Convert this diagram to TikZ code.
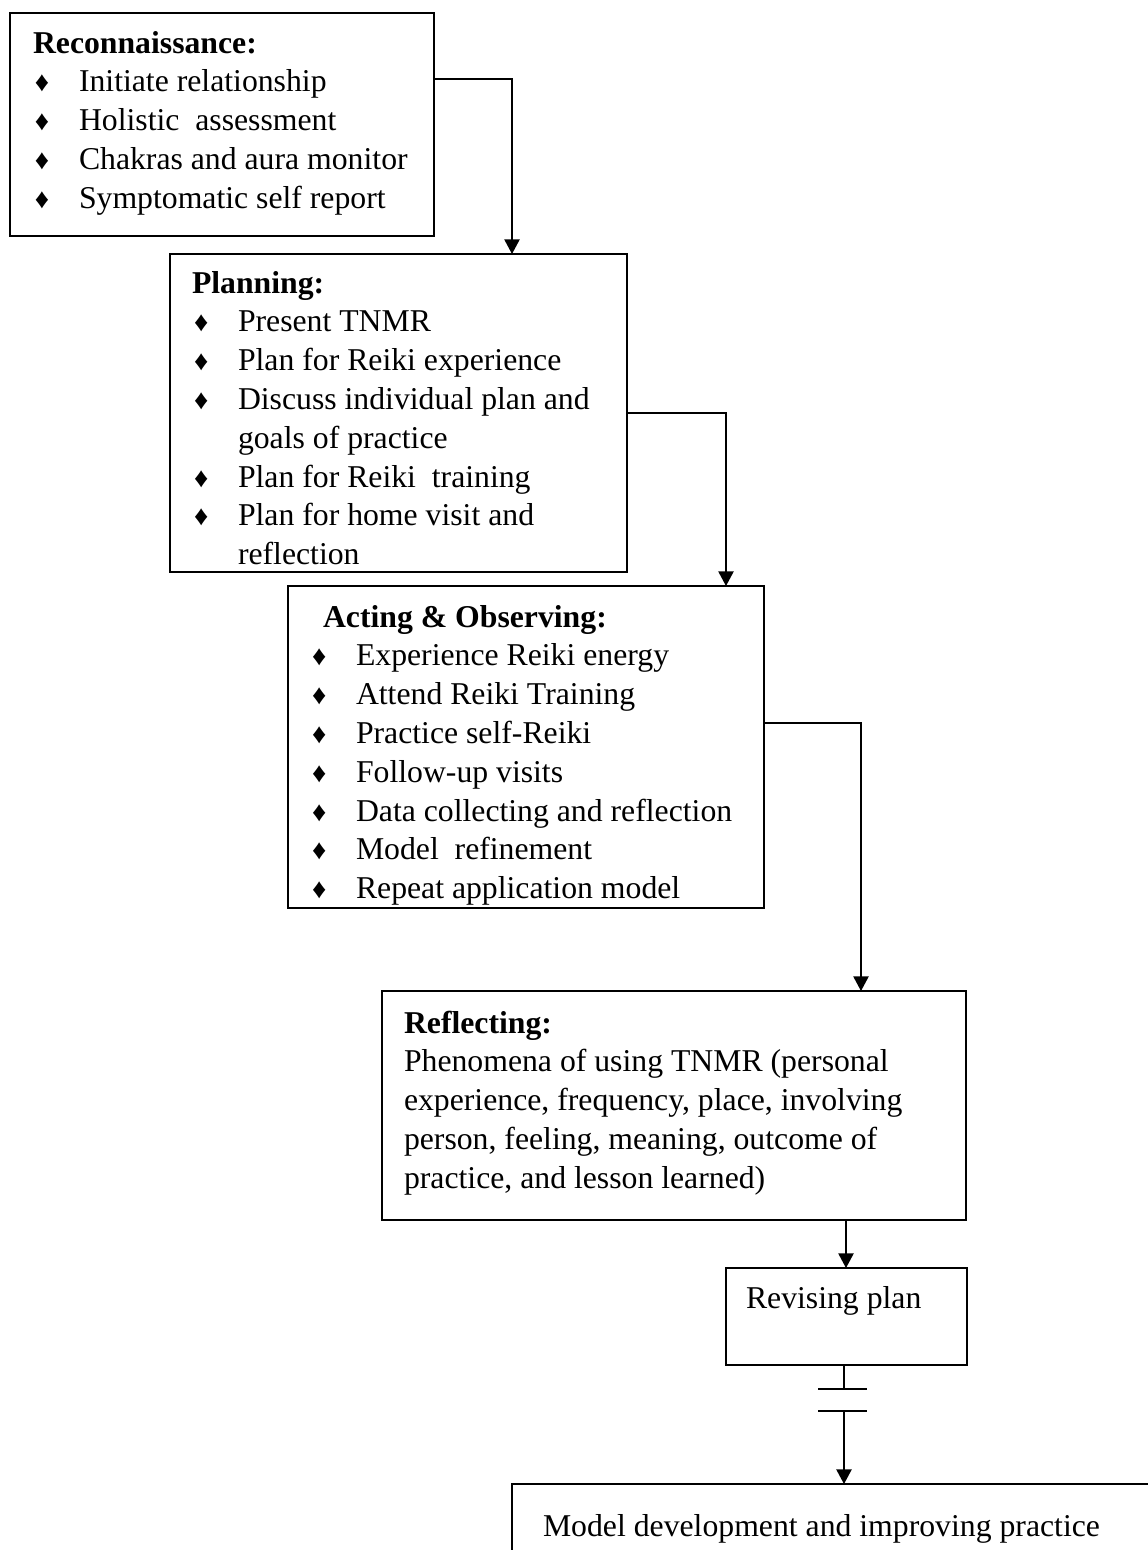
\documentclass[tikz,border=0pt]{standalone}
\usepackage{fontspec}
\setmainfont{Liberation Serif}
\usetikzlibrary{arrows.meta,calc}

% one unit of the drawing grid, in points
\def\px{0.75pt}
% diamond bullet followed by the indent of the item text
\newcommand\dmd{\makebox[33pt][l]{\fontsize{21pt}{21pt}\selectfont ♦}}

\tikzset{
  box/.style={draw, line width=1pt, rectangle, inner sep=0pt, outer sep=0pt, anchor=north west},
  body/.style={anchor=base west, inner sep=0pt, outer sep=0pt, align=left,
               font=\fontsize{23.8pt}{29.1pt}\selectfont},
  link/.style={line width=1pt},
  arr/.style={link, -{Triangle[width=11.5pt,length=11pt]}},
}

\begin{document}
\begin{tikzpicture}[x=0.75pt, y=-0.75pt]
  \useasboundingbox (0,0) rectangle (1148,1550);
  \clip (0,0) rectangle (1148,1550);

  % frames of the stages
  \node[box, minimum width=424*\px, minimum height=223*\px] (b1) at (10,13) {};
  \node[box, minimum width=457*\px, minimum height=318*\px] (b2) at (170,254) {};
  \node[box, minimum width=476*\px, minimum height=322*\px] (b3) at (288,586) {};
  \node[box, minimum width=584*\px, minimum height=229*\px] (b4) at (382,991) {};
  \node[box, minimum width=241*\px, minimum height=97*\px]  (b5) at (726,1268) {};
  \node[box, minimum width=660*\px, minimum height=90*\px]  (b6) at (512,1484) {};

  % contents of the stages
  \node[body] (t1) at (35,53) {\begin{tabular}[t]{@{}l@{}}
    \hspace*{-1.5pt}\textbf{Reconnaissance:}\\
    \dmd Initiate relationship\\
    \dmd Holistic~ assessment\\
    \dmd Chakras and aura monitor\\
    \dmd Symptomatic self report
  \end{tabular}};

  \node[body] (t2) at (194,293) {\begin{tabular}[t]{@{}l@{}}
    \hspace*{-1.5pt}\textbf{Planning:}\\
    \dmd Present TNMR\\
    \dmd Plan for Reiki experience\\
    \dmd Discuss individual plan and\\
    \hspace*{33pt}goals of practice\\
    \dmd Plan for Reiki~ training\\
    \dmd Plan for home visit and\\
    \hspace*{33pt}reflection
  \end{tabular}};

  \node[body] (t3) at (312,627) {\begin{tabular}[t]{@{}l@{}}
    \hspace*{8.25pt}\textbf{Acting \& Observing:}\\
    \dmd Experience Reiki energy\\
    \dmd Attend Reiki Training\\
    \dmd Practice self-Reiki\\
    \dmd Follow-up visits\\
    \dmd Data collecting and reflection\\
    \dmd Model~ refinement\\
    \dmd Repeat application model
  \end{tabular}};

  \node[body] (t4) at (404,1033) {\begin{tabular}[t]{@{}l@{}}
    \textbf{Reflecting:}\\
    Phenomena of using TNMR (personal\\
    experience, frequency, place, involving\\
    person, feeling, meaning, outcome of\\
    practice, and lesson learned)
  \end{tabular}};

  \node[body] (t5) at (746,1308) {Revising plan};
  \node[body] (t6) at (543,1536) {Model development and improving practice};

  % elbows of the connectors
  \coordinate (e1) at (512,79);
  \coordinate (e2) at (726,413);
  \coordinate (e3) at (861,723);
  \coordinate (e4) at (846,0);
  \coordinate (g1) at (844,1389);
  \coordinate (g2) at (844,1411);

  \draw[arr] (b1.east |- e1) -- (e1) -- (b2.north -| e1);
  \draw[arr] (b2.east |- e2) -- (e2) -- (b3.north -| e2);
  \draw[arr] (b3.east |- e3) -- (e3) -- (b4.north -| e3);
  \draw[arr] (b4.south -| e4) -- (b5.north -| e4);

  % broken link towards the last stage
  \draw[link] (b5.south -| g1) -- (g1);
  \draw[link] ($(g1)+(-26,0)$) -- ($(g1)+(23,0)$);
  \draw[link] ($(g2)+(-26,0)$) -- ($(g2)+(23,0)$);
  \draw[arr] (g2) -- (b6.north -| g2);
\end{tikzpicture}
\end{document}
